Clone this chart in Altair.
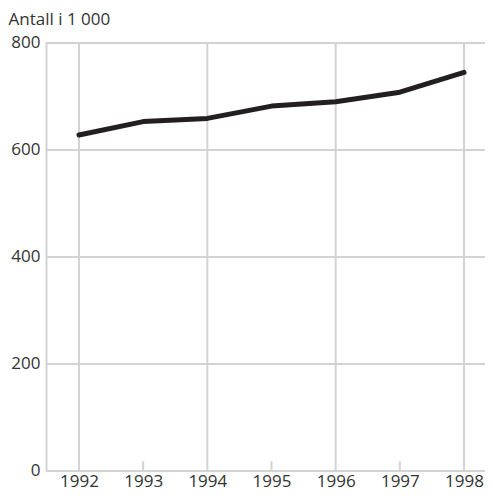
import altair as alt
import pandas as pd

years = [1992, 1993, 1994, 1995, 1996, 1997, 1998]
values = [627, 652, 658, 681, 689, 707, 744]
odd_years = [1993, 1995, 1997]
grid_years = [1992, 1994, 1996, 1998]
y_ticks = [0, 200, 400, 600, 800]

df = pd.DataFrame({"year": years, "value": values})
odd_df = pd.DataFrame({"year": odd_years})
grid_df = pd.DataFrame({"year": grid_years})

GRID = "#d3d3d3"
FONT = "Open Sans"
TXT = "#333333"
FS = 17

xscale = alt.Scale(domain=[1991.486, 1998.327], nice=False, zero=False)
yscale = alt.Scale(domain=[0, 800], nice=False)

vgrid = alt.Chart(grid_df).mark_rule(color=GRID, strokeWidth=2).encode(
    x=alt.X("year:Q", scale=xscale),
    y=alt.datum(0),
    y2=alt.datum(800),
)

oddticks = alt.Chart(odd_df).mark_rule(color=GRID, strokeWidth=2).encode(
    x=alt.X("year:Q", scale=xscale),
    y=alt.datum(0),
    y2=alt.datum(16.5),
)

line = alt.Chart(df).mark_line(color="#231f20", strokeWidth=5, strokeJoin="round", strokeCap="round").encode(
    x=alt.X(
        "year:Q",
        scale=xscale,
        axis=alt.Axis(
            values=years, format="d", grid=False, ticks=False, domain=False,
            labelFont=FONT, labelFontSize=FS, labelColor=TXT, labelPadding=3,
            title=None, labelFlush=False,
        ),
    ),
    y=alt.Y(
        "value:Q",
        scale=yscale,
        axis=alt.Axis(
            values=y_ticks, grid=True, gridColor=GRID, gridWidth=2, ticks=False,
            domain=True, domainColor=GRID, domainWidth=2,
            labelFont=FONT, labelFontSize=FS, labelColor=TXT, labelPadding=6,
            title="Antall i 1 000", titleAngle=0, titleAlign="left", titleBaseline="top",
            titleX=-38, titleY=-31, titleFont=FONT, titleFontSize=FS, titleFontWeight="normal",
            titleColor=TXT,
        ),
    ),
)

chart = (
    alt.layer(vgrid, oddticks, line)
    .properties(
        width=439, height=427.5,
        autosize=alt.AutoSizeParams(type="none"),
        padding={"left": 38, "top": 34.5, "right": 0, "bottom": 23},
    )
    .configure_view(stroke=None)
    .configure_axis(domainCap="square")
)

chart.save("out.html", embed_options={"renderer": "svg", "actions": False})
